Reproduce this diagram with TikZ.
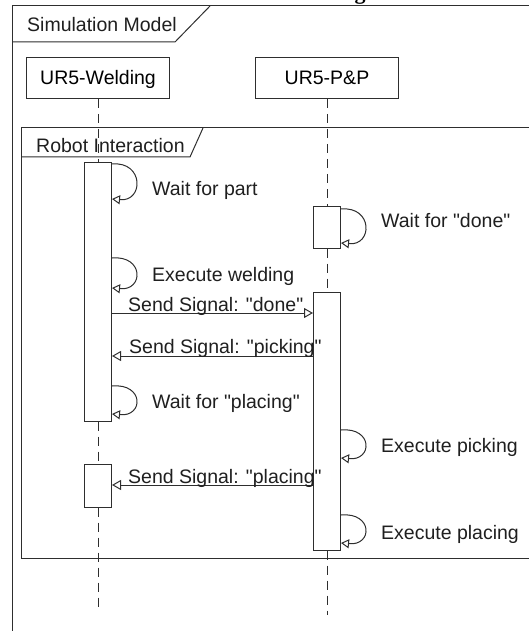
\documentclass[tikz,border=0pt]{standalone}
\usepackage{fontspec}
\setmainfont{Liberation Sans}
\newfontfamily\capfont{Liberation Serif}
\usetikzlibrary{arrows.meta}
\definecolor{umlline}{HTML}{2E2E2E}
\newcommand\quoted[1]{\textquotedbl#1\textquotedbl}
\begin{document}
\begin{tikzpicture}[x=1pt, y=-1pt, font=\fontsize{19.5}{22}\selectfont,
    frame/.style={draw=umlline, line width=1pt},
    actor/.style={draw=umlline, line width=1pt, minimum width=143pt, minimum height=41pt,
      text height=13.5pt, text depth=0pt, inner sep=0pt},
    actbar/.style={draw=umlline, line width=1pt, fill=white, minimum width=27pt, inner sep=0pt},
    lifeline/.style={draw=umlline, line width=1pt, dash pattern=on 9pt off 6pt},
    selfcall/.style={draw=umlline, line width=1pt, -{Triangle[open, length=8pt, width=9pt]}},
    signal/.style={draw=umlline, line width=1pt, -{Triangle[open, length=9pt, width=10pt]}},
    lbl/.style={anchor=base west, inner sep=0pt, text=black!88}]
    \useasboundingbox (0,0) rectangle (528,631);
    % cut caption above the picture
    \node[anchor=base, inner sep=0pt, font=\capfont\bfseries\fontsize{22}{24}\selectfont] (capfrag) at (360,-0.5) {g};
    % frames
    \draw[frame] (12,640) -- (12,6) -- (540,6);
    \draw[frame] (12,42) -- (175,42) -- (210,6);
    \node[lbl] (simtitle) at (27,32) {Simulation Model};
    \draw[frame] (540,128) -- (21,128) -- (21,558) -- (540,558);
    \draw[frame] (21,157) -- (190,157) -- (203,128);
    \node[lbl] (intertitle) at (36,153) {Robot Interaction};
    % lifelines
    \node[actor] (weld) at (98,78) {UR5-Welding};
    \node[actor] (pp) at (327,78) {UR5-P\&P};
    \node[actbar, minimum height=258pt] (wa1) at (98,292) {};
    \node[actbar, minimum height=43pt] (wa2) at (98,485.5) {};
    \node[actbar, minimum height=42pt] (pa1) at (327,227) {};
    \node[actbar, minimum height=258pt] (pa2) at (327,421) {};
    \coordinate (wend) at (98,611);
    \coordinate (pend) at (327,615);
    \draw[lifeline] (weld.south) -- (wa1.north) (wa1.south) -- (wa2.north) (wa2.south) -- (wend);
    \draw[lifeline] (pp.south) -- (pa1.north) (pa1.south) -- (pa2.north) (pa2.south) -- (pend);
    % self calls
    \foreach \act/\ya/\yb/\xt/\yt/\txt in {wa1/164/199/152/195/{Wait for part},
        pa1/209/243/381/227/{Wait for \quoted{done}},
        wa1/258/288/152/281/{Execute welding},
        wa1/386/414/152/408/{Wait for \quoted{placing}},
        pa2/430/458/381/452/{Execute picking},
        pa2/515/543/381/539/{Execute placing}} {
      \draw[selfcall] (\act.east |- 0,\ya) .. controls +(32,-3) and +(32,3) .. (\act.east |- 0,\yb);
      \node[lbl] (call\ya) at (\xt,\yt) {\txt};
    }
    % signals
    \draw[signal] (wa1.east |- 0,313) -- (pa2.west |- 0,313);
    \node[lbl] (sdone) at (128,311) {Send Signal: \quoted{done}};
    \draw[signal] (pa2.west |- 0,356) -- (wa1.east |- 0,356);
    \node[lbl] (spicking) at (129,353) {Send Signal: \quoted{picking}};
    \draw[signal] (pa2.west |- 0,485) -- (wa2.east |- 0,485);
    \node[lbl] (splacing) at (128,483) {Send Signal: \quoted{placing}};
  \end{tikzpicture}
\end{document}
